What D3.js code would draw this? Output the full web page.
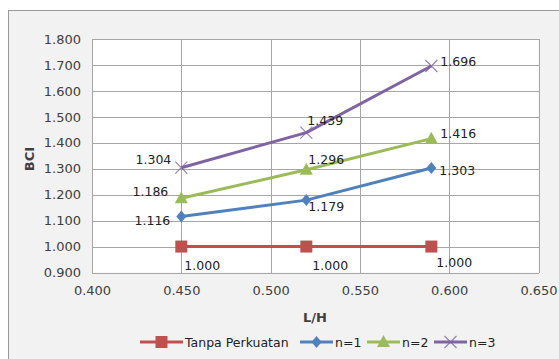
<!DOCTYPE html>
<html>
<head>
<meta charset="utf-8">
<script src="https://cdn.jsdelivr.net/npm/d3@7"></script>
<style>
  html, body { margin: 0; padding: 0; background: #ffffff; }
  svg { display: block; }
  text { font-family: "DejaVu Sans", Verdana, sans-serif; }
</style>
</head>
<body>
<svg id="chart" width="559" height="359"></svg>
<script>
// L/H ratios measured for each configuration
const ratioLH = [0.45, 0.52, 0.59];

// BCI values per reinforcement case
const tanpaPerkuatan = [1.000, 1.000, 1.000];
const n1 = [1.116, 1.179, 1.303];
const n2 = [1.186, 1.296, 1.416];
const n3 = [1.304, 1.439, 1.696];

const seriesNames = ["Tanpa Perkuatan", "n=1", "n=2", "n=3"];

// axis ticks
const yTicks = [0.9, 1.0, 1.1, 1.2, 1.3, 1.4, 1.5, 1.6, 1.7, 1.8];
const xTicks = [0.40, 0.45, 0.50, 0.55, 0.60, 0.65];

// presentation: colour, marker shape and data-label placement per series
const styles = [
  { color: "#C0504D", marker: "square",   labels: [[3, 23], [6, 23], [5, 20]], anchor: ["start", "start", "start"] },
  { color: "#4F81BD", marker: "diamond",  labels: [[-11, 9], [2, 11], [8, 7]], anchor: ["end", "start", "start"] },
  { color: "#9BBB59", marker: "triangle", labels: [[-13, -2], [2, -6], [9, -1]], anchor: ["end", "start", "start"] },
  { color: "#8064A2", marker: "x",        labels: [[-10, -4], [1, -8], [9, 0]], anchor: ["end", "start", "start"] }
];

const data = [tanpaPerkuatan, n1, n2, n3].map((vals, i) => ({
  name: seriesNames[i],
  style: styles[i],
  points: vals.map((v, j) => ({ x: ratioLH[j], y: v }))
}));

const svg = d3.select("#chart");

// chart area background and frame
svg.append("rect")
  .attr("x", 8.5).attr("y", 10.5)
  .attr("width", 560).attr("height", 360)
  .attr("fill", "#f2f2f2")
  .attr("stroke", "#9a9a9a").attr("stroke-width", 1);

const plot = { left: 92, top: 39, right: 538.5, bottom: 272.5 };

const x = d3.scaleLinear().domain([0.40, 0.65]).range([plot.left, plot.right]);
const y = d3.scaleLinear().domain([0.9, 1.8]).range([plot.bottom, plot.top]);

svg.append("rect")
  .attr("x", plot.left).attr("y", plot.top)
  .attr("width", plot.right - plot.left).attr("height", plot.bottom - plot.top)
  .attr("fill", "#ffffff");

// gridlines
const grid = svg.append("g").attr("stroke", "#a6a6a6").attr("stroke-width", 1).attr("shape-rendering", "crispEdges");
grid.selectAll("line.h").data(yTicks).join("line")
  .attr("x1", plot.left).attr("x2", plot.right)
  .attr("y1", d => Math.round(y(d)) + 0.5).attr("y2", d => Math.round(y(d)) + 0.5);
grid.selectAll("line.v").data(xTicks).join("line")
  .attr("y1", plot.top).attr("y2", plot.bottom)
  .attr("x1", d => Math.round(x(d)) + 0.5).attr("x2", d => Math.round(x(d)) + 0.5);

// axes
const yAxis = d3.axisLeft(y).tickValues(yTicks).tickFormat(d3.format(".3f")).tickSize(0).tickPadding(11);
const xAxis = d3.axisBottom(x).tickValues(xTicks).tickFormat(d3.format(".3f")).tickSize(0).tickPadding(13);

svg.append("g").attr("transform", `translate(${plot.left},0)`).call(yAxis)
  .call(g => g.select(".domain").remove())
  .selectAll("text").attr("font-size", 13).attr("fill", "#404040").attr("font-family", "DejaVu Sans");
svg.append("g").attr("transform", `translate(0,${plot.bottom})`).call(xAxis)
  .call(g => g.select(".domain").remove())
  .selectAll("text").attr("font-size", 13).attr("fill", "#404040").attr("font-family", "DejaVu Sans");

// axis titles
svg.append("text")
  .attr("transform", `translate(34,159) rotate(-90)`)
  .attr("text-anchor", "middle")
  .attr("font-size", 13).attr("font-weight", "bold").attr("fill", "#404040")
  .text("BCI");
svg.append("text")
  .attr("x", 315).attr("y", 322)
  .attr("text-anchor", "middle")
  .attr("font-size", 13).attr("font-weight", "bold").attr("fill", "#404040")
  .text("L/H");

// marker drawing
function drawMarker(g, type, color, cx, cy) {
  if (type === "square") {
    g.append("rect").attr("x", cx - 6).attr("y", cy - 6).attr("width", 12).attr("height", 12).attr("fill", color);
  } else if (type === "diamond") {
    g.append("path").attr("d", `M${cx},${cy - 6}L${cx + 5},${cy}L${cx},${cy + 6}L${cx - 5},${cy}Z`).attr("fill", color);
  } else if (type === "triangle") {
    g.append("path").attr("d", `M${cx},${cy - 7}L${cx + 6.5},${cy + 5}L${cx - 6.5},${cy + 5}Z`).attr("fill", color);
  } else if (type === "x") {
    g.append("path").attr("d", `M${cx - 6},${cy - 6}L${cx + 6},${cy + 6}M${cx - 6},${cy + 6}L${cx + 6},${cy - 6}`)
      .attr("stroke", color).attr("stroke-width", 1.2).attr("fill", "none").attr("opacity", 0.8);
  }
}

const line = d3.line().x(d => x(d.x)).y(d => y(d.y));

data.forEach(s => {
  const g = svg.append("g");
  g.append("path").datum(s.points)
    .attr("d", line)
    .attr("fill", "none")
    .attr("stroke", s.style.color)
    .attr("stroke-width", 3)
    .attr("stroke-linejoin", "round");
  s.points.forEach(p => drawMarker(g, s.style.marker, s.style.color, x(p.x), y(p.y)));
});

// data labels
data.forEach(s => {
  s.points.forEach((p, j) => {
    const [dx, dy] = s.style.labels[j];
    svg.append("text")
      .attr("x", x(p.x) + dx).attr("y", y(p.y) + dy)
      .attr("text-anchor", s.style.anchor[j])
      .attr("font-size", 12.5).attr("fill", "#222222")
      .text(d3.format(".3f")(p.y));
  });
});

// legend
const legendItems = [
  { x: 140, textX: 185 },
  { x: 300, textX: 335 },
  { x: 367, textX: 402 },
  { x: 434, textX: 469 }
];
const legend = svg.append("g");
data.forEach((s, i) => {
  const li = legendItems[i];
  const ly = 342;
  legend.append("line")
    .attr("x1", li.x).attr("x2", li.textX - 2)
    .attr("y1", ly).attr("y2", ly)
    .attr("stroke", s.style.color).attr("stroke-width", 3);
  drawMarker(legend, s.style.marker, s.style.color, (li.x + li.textX - 2) / 2, ly);
  legend.append("text")
    .attr("x", li.textX).attr("y", ly + 5)
    .attr("font-size", 12.5).attr("fill", "#222222")
    .text(s.name);
});
</script>
</body>
</html>
